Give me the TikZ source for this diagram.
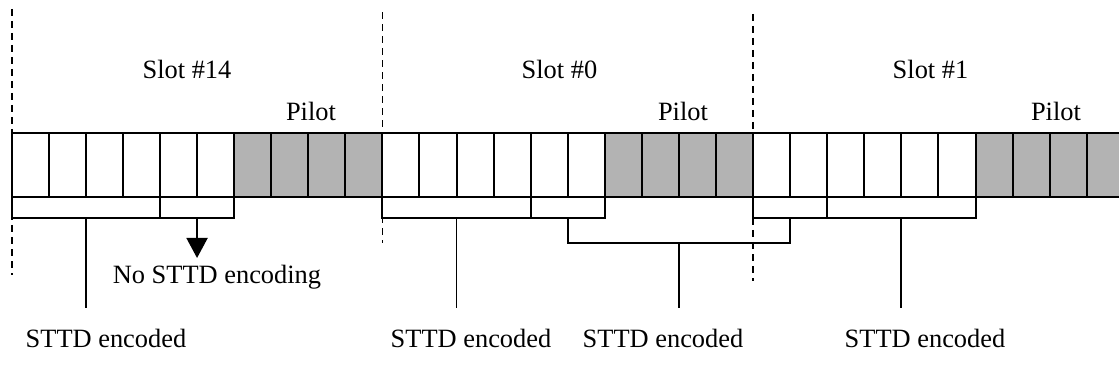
\documentclass[tikz,border=0pt]{standalone}
\usepackage{fontspec}
\setmainfont{Liberation Serif}
\usetikzlibrary{arrows.meta,calc}
\definecolor{pilotgray}{RGB}{179,179,179}
\begin{document}
\begin{tikzpicture}[x=1pt,y=-1pt,
  cell/.style={draw,line width=2pt,minimum width=37.07pt,minimum height=63.4pt,inner sep=0pt,outer sep=0pt,anchor=north west},
  datacell/.style={cell,fill=white},
  pilotcell/.style={cell,fill=pilotgray},
  brace/.style={line width=2pt,line join=miter},
  stem/.style={line width=1.8pt},
  slotline/.style={line width=1.8pt,dash pattern=on 7pt off 5pt},
  lbl/.style={font=\fontsize{26.4}{30}\selectfont,inner sep=0pt,anchor=base},
  tip/.style={-{Triangle[width=21pt,length=20pt]}}
]
\useasboundingbox (0,0) rectangle (1119,390);
\clip (0,0) rectangle (1119,390);
\fill[white] (0,0) rectangle (1119,390);

% levels
\coordinate (yb) at (0,218.3);
\coordinate (yG) at (0,243.2);
\coordinate (ystem) at (0,308);
\coordinate (yarrow) at (0,258);

% cells
\foreach \i in {0,...,29}{
  \pgfmathtruncatemacro\k{mod(\i,10)}
  \ifnum\k<6
    \node[datacell] (c\i) at ({11.7+37.07*\i},133.3) {};
  \else
    \node[pilotcell] (c\i) at ({11.7+37.07*\i},133.3) {};
  \fi
}

% slot boundaries
\draw[slotline] (c0.north west |- 0,9) -- (c0.north west |- 0,274.6);
\draw[slotline] (c10.north west |- 0,12.5) -- (c10.north west |- 0,243);
\draw[slotline] (c20.north west |- 0,14) -- (c20.north west |- 0,281);

% first-level brackets
\draw[brace] (c0.south west) -- (c0.south west |- yb) -- (c4.south west |- yb) -- (c4.south west);
\draw[brace] (c4.south west) -- (c4.south west |- yb) -- (c6.south west |- yb) -- (c6.south west);
\draw[brace] (c10.south west) -- (c10.south west |- yb) -- (c14.south west |- yb) -- (c14.south west);
\draw[brace] (c14.south west) -- (c14.south west |- yb) -- (c16.south west |- yb) -- (c16.south west);
\draw[brace] (c20.south west) -- (c20.south west |- yb) -- (c22.south west |- yb) -- (c22.south west);
\draw[brace] (c22.south west) -- (c22.south west |- yb) -- (c26.south west |- yb) -- (c26.south west);

\coordinate (mA) at ($(c0.south west |- yb)!.5!(c4.south west |- yb)$);
\coordinate (mB) at ($(c4.south west |- yb)!.5!(c6.south west |- yb)$);
\coordinate (mC) at ($(c10.south west |- yb)!.5!(c14.south west |- yb)$);
\coordinate (mD) at ($(c14.south west |- yb)!.5!(c16.south west |- yb)$);
\coordinate (mE) at ($(c20.south west |- yb)!.5!(c22.south west |- yb)$);
\coordinate (mF) at ($(c22.south west |- yb)!.5!(c26.south west |- yb)$);

% second-level bracket
\draw[brace] (mD) -- (mD |- yG) -- (mE |- yG) -- (mE);
\coordinate (mG) at ($(mD |- yG)!.5!(mE |- yG)$);

% stems
\draw[stem] (mA) -- (mA |- ystem);
\draw[stem] (mC) -- (mC |- ystem);
\draw[stem] (mG) -- (mG |- ystem);
\draw[stem] (mF) -- (mF |- ystem);
\draw[stem,tip] (mB) -- (mB |- yarrow);

% labels
\node[lbl] (s14) at (187,78.6) {Slot \#14};
\node[lbl] (s0) at (559.5,78.6) {Slot \#0};
\node[lbl] (s1) at (930.5,78.6) {Slot \#1};
\node[lbl] (p14) at (311,120.5) {Pilot};
\node[lbl] (p0) at (683,120.5) {Pilot};
\node[lbl] (p1) at (1056,120.5) {Pilot};
\node[lbl] (lB) at (217,283.5) {No STTD encoding};
\node[lbl] (lA) at (106,347) {STTD encoded};
\node[lbl] (lC) at (471,347) {STTD encoded};
\node[lbl] (lG) at (663,347) {STTD encoded};
\node[lbl] (lF) at (925,347) {STTD encoded};
\end{tikzpicture}
\end{document}
